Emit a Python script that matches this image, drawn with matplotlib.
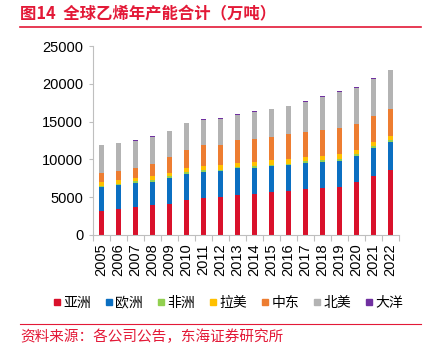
import numpy as np
import matplotlib.pyplot as plt
from matplotlib.lines import Line2D

plt.rcParams['font.family'] = ['Liberation Sans', 'Noto Sans CJK SC', 'DejaVu Sans']

years = [str(y) for y in range(2005, 2023)]
asia = [3215, 3440, 3748, 3925, 4057, 4675, 4852, 4985, 5292, 5470, 5645, 5820, 6128, 6260, 6390, 7012, 7766, 8640]
europe = [3175, 3130, 3175, 3131, 3528, 3435, 3523, 3482, 3528, 3435, 3485, 3441, 3442, 3440, 3440, 3478, 3784, 3704]
africa = [150, 150, 150, 160, 160, 170, 180, 180, 180, 180, 180, 180, 180, 180, 190, 190, 190, 200]
latam = [470, 557, 512, 591, 498, 625, 575, 614, 526, 573, 570, 571, 570, 570, 696, 565, 564, 594]
mideast = [1231, 1231, 1320, 1629, 2033, 2382, 2777, 2689, 2999, 3082, 3130, 3308, 3352, 3480, 3399, 3480, 3479, 3572]
namerica = [3614, 3655, 3570, 3569, 3474, 3481, 3343, 3440, 3395, 3575, 3610, 3740, 3965, 4370, 4845, 4765, 4897, 5070]
oceania = [50, 50, 50, 50, 50, 50, 50, 50, 50, 50, 50, 50, 50, 50, 50, 50, 50, 50]

series = [("亚洲", asia, "#D9112B"), ("欧洲", europe, "#0B6FC1"), ("非洲", africa, "#92D050"),
          ("拉美", latam, "#FFC000"), ("中东", mideast, "#ED7D31"), ("北美", namerica, "#B3B3B3"),
          ("大洋", oceania, "#7030A0")]

fig = plt.figure(figsize=(4.37, 3.46), dpi=100)
ax = fig.add_axes([0.213, 0.321, 0.700, 0.546])

x = np.arange(len(years))
bottom = np.zeros(len(years))
handles = []
for name, vals, color in series:
    ax.bar(x, vals, bottom=bottom, width=0.34, color=color, linewidth=0)
    bottom += np.array(vals)
    handles.append(Line2D([], [], marker='s', linestyle='none', markersize=5,
                          markerfacecolor=color, markeredgecolor=color, label=name))

ax.set_ylim(0, 25000)
ax.set_xlim(-0.5, len(years) - 0.5)
ax.set_yticks(range(0, 25001, 5000))
ax.set_xticks(x)
ax.set_xticklabels(years, rotation=90)
ax.set_xticks(np.arange(-0.5, len(years), 1), minor=True)
ax.tick_params(axis='x', which='major', length=0, labelsize=10.5, pad=6)
ax.tick_params(axis='x', which='minor', length=4, color='#BFBFBF', width=0.8)
ax.tick_params(axis='y', length=3, color='#BFBFBF', width=0.8, labelsize=10.5, pad=4)
for s in ['top', 'right']:
    ax.spines[s].set_visible(False)
for s in ['left', 'bottom']:
    ax.spines[s].set_color('#BFBFBF')
    ax.spines[s].set_linewidth(0.8)

fig.legend(handles=handles, loc='center', bbox_to_anchor=(0.52, 0.125), ncol=7,
           frameon=False, handletextpad=0.05, columnspacing=0.9,
           handlelength=0.8, prop={'family': ['Noto Sans CJK SC'], 'size': 10})

red = '#E31937'
fig.text(0.046, 0.958, "图14  全球乙烯年产能合计（万吨）", color=red, fontsize=11.8,
         fontweight='bold', va='center', ha='left', family=['Noto Sans CJK SC'])
fig.add_artist(Line2D([0.046, 0.964], [0.922, 0.922], color=red, linewidth=1.2))
fig.add_artist(Line2D([0.046, 0.964], [0.064, 0.064], color=red, linewidth=0.8))
fig.text(0.046, 0.026, "资料来源：各公司公告，东海证券研究所", color=red, fontsize=10.5,
         va='center', ha='left', family=['Noto Sans CJK SC'])

fig.savefig("out.png", dpi=100)
